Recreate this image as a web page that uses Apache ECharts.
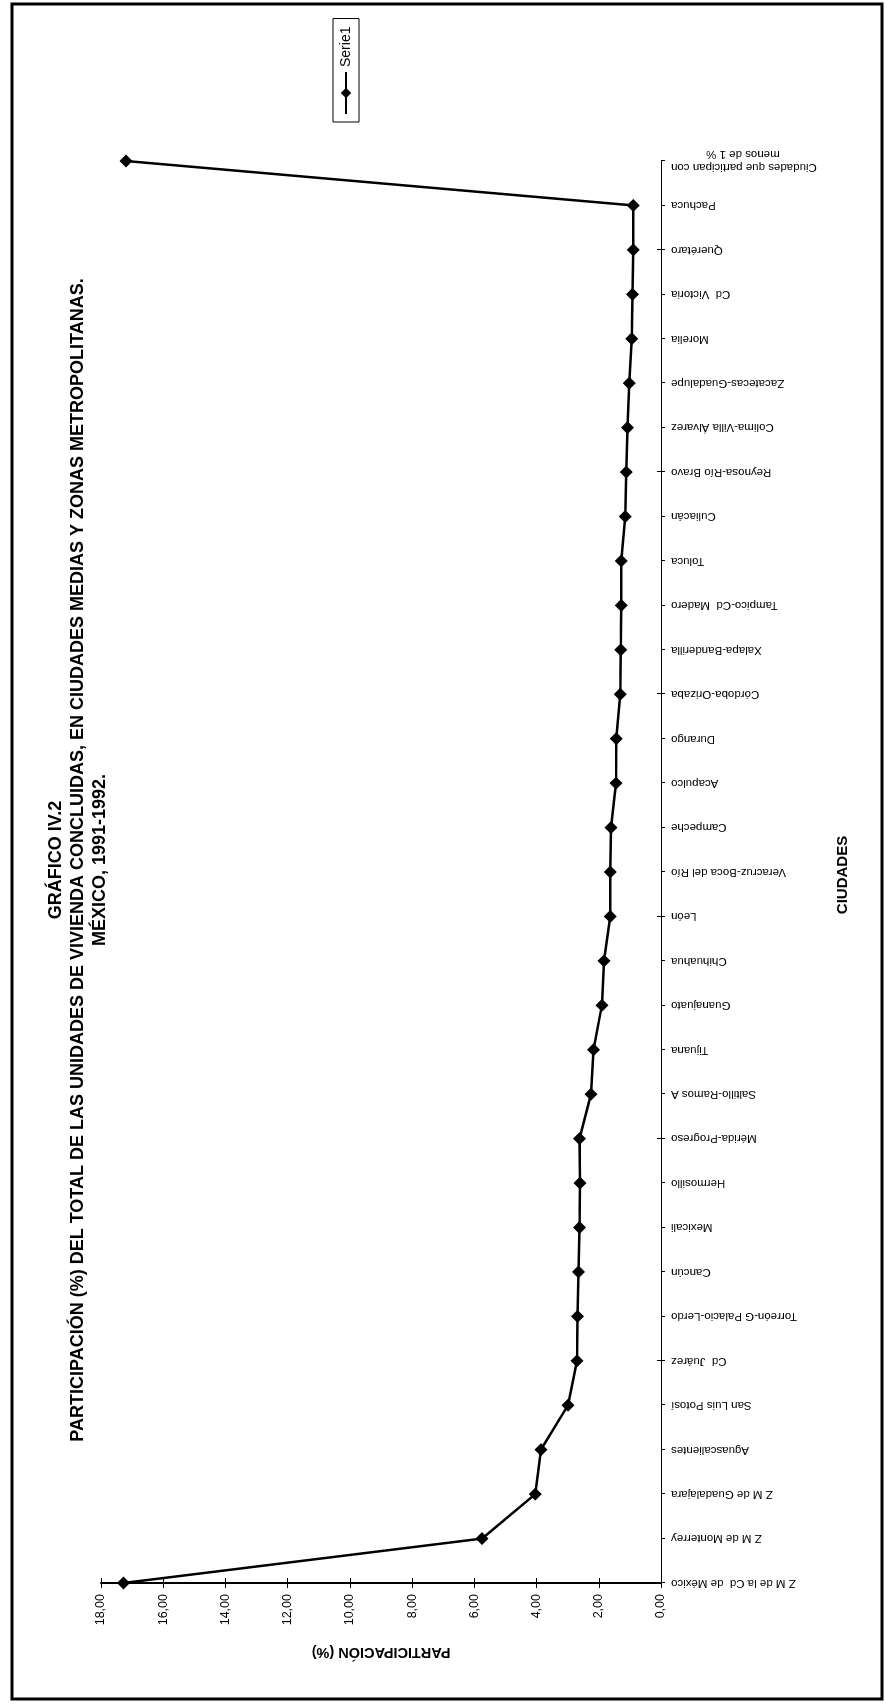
<!DOCTYPE html>
<html>
<head>
<meta charset="utf-8">
<script src="https://cdn.jsdelivr.net/npm/echarts@6/dist/echarts.min.js"></script>
<style>
  html, body { margin: 0; padding: 0; background: #fff; overflow: hidden; width: 885px; height: 1704px; }
  /* the chart is laid out in landscape and turned a quarter turn to sit on the portrait page */
  #chart { position: absolute; left: 0; top: 0; width: 1704px; height: 885px;
           transform-origin: 0 0; transform: translate(0, 1704px) rotate(-90deg); }
</style>
</head>
<body>
<div id="chart"></div>
<script>
// Ciudades y zonas metropolitanas, en el orden del eje
const ciudades = [
  'Z M de la Cd  de México', 'Z M de Monterrey', 'Z M de Guadalajara', 'Aguascalientes',
  'San Luis Potosí', 'Cd  Juárez', 'Torreón-G Palacio-Lerdo', 'Cancún', 'Mexicali',
  'Hermosillo', 'Mérida-Progreso', 'Saltillo-Ramos A', 'Tijuana', 'Guanajuato',
  'Chihuahua', 'León', 'Veracruz-Boca del Río', 'Campeche', 'Acapulco', 'Durango',
  'Córdoba-Orizaba', 'Xalapa-Banderilla', 'Tampico-Cd  Madero', 'Toluca', 'Culiacán',
  'Reynosa-Río Bravo', 'Colima-Villa Álvarez', 'Zacatecas-Guadalupe', 'Morelia',
  'Cd  Victoria', 'Querétaro', 'Pachuca', 'Ciudades que participan con\nmenos de 1 %'
];

// Participación (%) de cada ciudad en el total de viviendas concluidas
const participacion = [
  17.28, 5.75, 4.04, 3.86, 2.99, 2.70, 2.68, 2.65, 2.62, 2.60, 2.62,
  2.25, 2.17, 1.90, 1.83, 1.63, 1.63, 1.61, 1.45, 1.44, 1.31, 1.29,
  1.28, 1.28, 1.15, 1.12, 1.08, 1.02, 0.94, 0.92, 0.89, 0.89, 17.20
];

// Etiquetas del eje de participación
const marcasEje = ['0,00', '2,00', '4,00', '6,00', '8,00', '10,00', '12,00', '14,00', '16,00', '18,00'];

const titulo = [
  'GRÁFICO IV.2',
  'PARTICIPACIÓN (%) DEL TOTAL DE LAS UNIDADES DE VIVIENDA CONCLUIDAS, EN CIUDADES MEDIAS Y ZONAS METROPOLITANAS.',
  'MÉXICO, 1991-1992.'
];

const FONT = '"Liberation Sans", Arial, sans-serif';
const chart = echarts.init(document.getElementById('chart'), null, { renderer: 'canvas' });

const textEl = (txt, x, y, size, rot) => ({
  type: 'text', x: x, y: y, rotation: rot || 0, silent: true,
  style: {
    text: txt, font: 'bold ' + size + 'px ' + FONT, fill: '#000',
    align: 'center', verticalAlign: 'middle', textAlign: 'center', textVerticalAlign: 'middle'
  }
});

// two-line labels: the shorter line is padded so it sits centred under the longer one
const centrarLineas = txt => {
  const lineas = txt.split('\n');
  if (lineas.length < 2) return txt;
  const largo = Math.max(...lineas.map(l => l.length));
  return lineas.map(l => l + '\u00a0'.repeat(Math.round((largo - l.length) * 0.75))).join('\n');
};

chart.setOption({
  animation: false,
  backgroundColor: '#fff',
  grid: { left: 121, right: 161, top: 101, bottom: 224, containLabel: false },
  legend: {
    data: ['Serie1'], left: 1582, top: 333, padding: [6, 8, 6, 7],
    itemWidth: 42, itemHeight: 13, itemGap: 4,
    borderColor: '#000', borderWidth: 1,
    textStyle: { fontSize: 14, color: '#000', fontFamily: FONT }
  },
  xAxis: [{
    type: 'category', data: ciudades, boundaryGap: false, position: 'bottom',
    axisLine: { lineStyle: { color: '#000', width: 1 } },
    axisTick: { show: true, length: 4, lineStyle: { color: '#000' } },
    axisLabel: {
      rotate: 90, interval: 0, margin: 10, fontSize: 11.5, color: '#000', fontFamily: FONT, lineHeight: 13,
      formatter: centrarLineas
    }
  }, {
    // marcas interiores: completan las cruces sobre el eje de ciudades
    type: 'category', data: ciudades, boundaryGap: false, position: 'bottom',
    axisLine: { show: false },
    axisTick: { show: true, inside: true, length: 4, lineStyle: { color: '#000' } },
    axisLabel: { show: false }
  }],
  yAxis: [{
    type: 'value', min: 0, max: 18, interval: 2,
    axisLine: { show: true, lineStyle: { color: '#000', width: 2 } },
    axisTick: { show: true, length: 5, lineStyle: { color: '#000' } },
    splitLine: { show: false },
    axisLabel: {
      margin: 11, fontSize: 12.5, color: '#000', fontFamily: FONT,
      formatter: v => marcasEje[Math.round(v / 2)]
    }
  }, {
    type: 'value', min: 0, max: 18, interval: 2, position: 'left',
    axisLine: { show: false },
    axisTick: { show: true, inside: true, length: 5, lineStyle: { color: '#000' } },
    splitLine: { show: false },
    axisLabel: { show: false }
  }],
  series: [{
    name: 'Serie1', type: 'line', data: participacion,
    xAxisIndex: 0, yAxisIndex: 0,
    symbol: 'diamond', symbolSize: 13,
    lineStyle: { color: '#000', width: 2.5 },
    itemStyle: { color: '#000' }
  }],
  graphic: [
    { type: 'rect', silent: true, shape: { x: 5, y: 12, width: 1695, height: 870 },
      style: { fill: null, stroke: '#000', lineWidth: 3 } },
    textEl(titulo[0], 844, 56, 18),
    textEl(titulo[1], 844, 78, 18),
    textEl(titulo[2], 844, 100, 18),
    textEl('CIUDADES', 829, 843, 15),
    textEl('PARTICIPACIÓN (%)', 52, 381, 14.5, Math.PI / 2)
  ]
});
</script>
</body>
</html>
